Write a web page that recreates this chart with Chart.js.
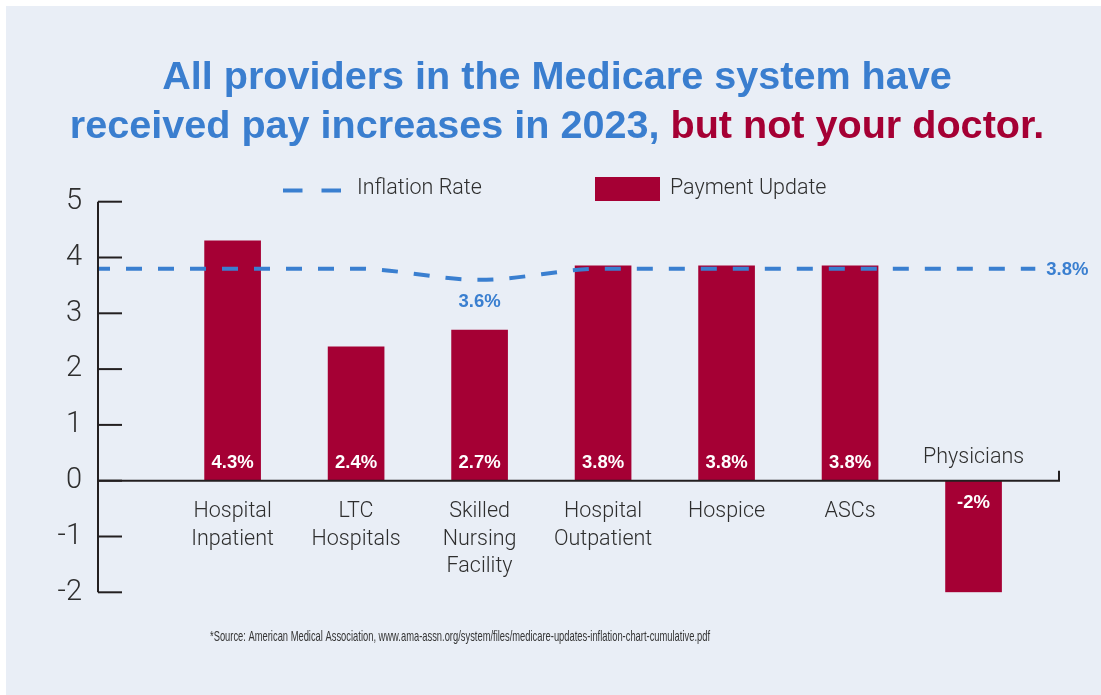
<!DOCTYPE html>
<html>
<head>
<meta charset="utf-8">
<script src="https://cdn.jsdelivr.net/npm/chart.js@4.4.1/dist/chart.umd.min.js"></script>
<style>
  html, body { margin: 0; padding: 0; background: #ffffff; width: 1101px; height: 695px; overflow: hidden; }
  #panel { position: absolute; left: 6px; top: 6px; width: 1095px; height: 689px; background: #e9eef6; }
  #chartBox { position: absolute; left: 0; top: 0; width: 1101px; height: 695px; }
  #title { position: absolute; left: 0; top: 51px; width: 1114px; text-align: center;
           font: bold 39.6px "Liberation Sans", Arial, sans-serif; line-height: 49px; color: #3a7ecf; margin: 0; }
  #title .red { color: #a50034; }
</style>
</head>
<body>
<div id="panel"></div>
<div id="chartBox"><canvas id="c" width="1101" height="695"></canvas></div>
<h1 id="title">All providers in the Medicare system have<br>received pay increases in 2023, <span class="red">but not your doctor.</span></h1>
<script>
// ---- data ----
const categories = ['Hospital Inpatient', 'LTC Hospitals', 'Skilled Nursing Facility', 'Hospital Outpatient', 'Hospice', 'ASCs', 'Physicians'];
const categoryLines = [['Hospital', 'Inpatient'], ['LTC', 'Hospitals'], ['Skilled', 'Nursing', 'Facility'], ['Hospital', 'Outpatient'], ['Hospice'], ['ASCs'], ['Physicians']];
const paymentUpdate = [4.3, 2.4, 2.7, 3.85, 3.85, 3.85, -2];
const paymentLabels = ['4.3%', '2.4%', '2.7%', '3.8%', '3.8%', '3.8%', '-2%'];
const inflationRate = [3.8, 3.8, 3.6, 3.8, 3.8, 3.8, 3.8];
const inflationLabels = { low: '3.6%', end: '3.8%' };
const yTicks = [-2, -1, 0, 1, 2, 3, 4, 5];
const legendLabels = ['Inflation Rate', 'Payment Update'];
const sourceText = '*Source: American Medical Association, www.ama-assn.org/system/files/medicare-updates-inflation-chart-cumulative.pdf';

// ---- styles ----
const RED = '#a50034';
const BLUE = '#3a7fd0';
const INK = '#231f20';
const TEXT = '#2e2e2e';
const LIGHT_FONT = '"Roboto", "Liberation Sans", sans-serif';
const BOLD_FONT = '"Liberation Sans", Arial, sans-serif';
const X_MIN = -1.09, X_MAX = 6.70;

const barData = paymentUpdate.map((v, i) => ({ x: i, y: v }));
const lineData = [{ x: X_MIN, y: inflationRate[0] }]
  .concat(inflationRate.map((v, i) => ({ x: i, y: v })))
  .concat([{ x: categories.length - 0.5, y: inflationRate[inflationRate.length - 1] }]);

const decor = {
  id: 'decor',
  afterDatasetsDraw(chart) {
    const ctx = chart.ctx;
    const xs = chart.scales.x, ys = chart.scales.y;
    const area = chart.chartArea;
    const y0 = ys.getPixelForValue(0);
    ctx.save();
    ctx.strokeStyle = INK;
    ctx.lineWidth = 2;
    ctx.lineCap = 'butt';
    // y axis line
    ctx.beginPath();
    ctx.moveTo(area.left, ys.getPixelForValue(yTicks[yTicks.length - 1]));
    ctx.lineTo(area.left, ys.getPixelForValue(yTicks[0]));
    ctx.stroke();
    // inward tick marks
    yTicks.forEach(t => {
      const py = ys.getPixelForValue(t);
      ctx.beginPath();
      ctx.moveTo(area.left, py);
      ctx.lineTo(area.left + 24, py);
      ctx.stroke();
    });
    // zero line with end tick
    ctx.beginPath();
    ctx.moveTo(area.left, y0);
    ctx.lineTo(area.right - 1, y0);
    ctx.lineTo(area.right - 1, y0 - 10);
    ctx.stroke();

    // category labels
    ctx.fillStyle = TEXT;
    ctx.font = '300 21.5px ' + LIGHT_FONT;
    ctx.textAlign = 'center';
    ctx.textBaseline = 'middle';
    categoryLines.forEach((lines, i) => {
      const px = xs.getPixelForValue(i);
      if (paymentUpdate[i] < 0) {
        ctx.fillText(lines.join(' '), px, y0 - 23);
      } else {
        lines.forEach((ln, k) => ctx.fillText(ln, px, y0 + 31 + k * 27.5));
      }
    });

    // bar value labels
    ctx.fillStyle = '#ffffff';
    ctx.font = 'bold 18.5px ' + BOLD_FONT;
    paymentLabels.forEach((lab, i) => {
      const px = xs.getPixelForValue(i);
      ctx.fillText(lab, px, paymentUpdate[i] < 0 ? y0 + 22 : y0 - 18);
    });

    // inflation labels
    ctx.fillStyle = BLUE;
    const lowIdx = inflationRate.indexOf(Math.min(...inflationRate));
    ctx.fillText(inflationLabels.low, xs.getPixelForValue(lowIdx), ys.getPixelForValue(inflationRate[lowIdx]) + 22);
    ctx.textAlign = 'left';
    ctx.fillText(inflationLabels.end, xs.getPixelForValue(categories.length - 0.5) + 11, ys.getPixelForValue(inflationRate[inflationRate.length - 1]) + 1);

    // legend
    ctx.strokeStyle = BLUE;
    ctx.lineWidth = 4;
    ctx.setLineDash([19.5, 19]);
    ctx.beginPath();
    ctx.moveTo(283, 190.5);
    ctx.lineTo(342, 190.5);
    ctx.stroke();
    ctx.setLineDash([]);
    ctx.fillStyle = TEXT;
    ctx.font = '300 21.5px ' + LIGHT_FONT;
    ctx.textAlign = 'left';
    ctx.fillText(legendLabels[0], 357, 189);
    ctx.fillStyle = RED;
    ctx.fillRect(595, 177, 65, 24);
    ctx.fillStyle = TEXT;
    ctx.fillText(legendLabels[1], 670, 189);

    // source note (condensed)
    ctx.font = 'normal 14.5px "Liberation Sans", Arial, sans-serif';
    const w = ctx.measureText(sourceText).width;
    const sx = 500 / w;
    ctx.translate(460, 637);
    ctx.scale(sx, 1);
    ctx.textAlign = 'center';
    ctx.fillStyle = '#333333';
    ctx.fillText(sourceText, 0, 0);
    ctx.restore();
  }
};

new Chart(document.getElementById('c'), {
  type: 'bar',
  data: {
    datasets: [
      {
        type: 'line',
        label: legendLabels[0],
        data: lineData,
        borderColor: BLUE,
        borderWidth: 4,
        borderDash: [16, 16],
        borderDashOffset: 4,
        pointRadius: 0,
        fill: false,
        cubicInterpolationMode: 'monotone',
        order: 0
      },
      {
        type: 'bar',
        label: legendLabels[1],
        data: barData,
        backgroundColor: RED,
        borderWidth: 0,
        barThickness: 56,
        order: 1
      }
    ]
  },
  options: {
    responsive: false,
    animation: false,
    devicePixelRatio: 1,
    layout: { padding: { left: 0, top: 201.7, right: 41, bottom: 102.7 } },
    plugins: { legend: { display: false }, tooltip: { enabled: false }, title: { display: false } },
    scales: {
      x: {
        type: 'linear',
        min: X_MIN,
        max: X_MAX,
        offset: false,
        display: false
      },
      y: {
        min: yTicks[0],
        max: yTicks[yTicks.length - 1],
        afterBuildTicks: s => { s.ticks = yTicks.map(v => ({ value: v })); },
        afterFit: s => { s.width = 98; },
        grid: { display: false, drawTicks: false },
        border: { display: false },
        ticks: {
          padding: 16,
          color: TEXT,
          font: { family: LIGHT_FONT, size: 29, weight: '300' },
          callback: v => String(v)
        }
      }
    }
  },
  plugins: [decor]
});
</script>
</body>
</html>
